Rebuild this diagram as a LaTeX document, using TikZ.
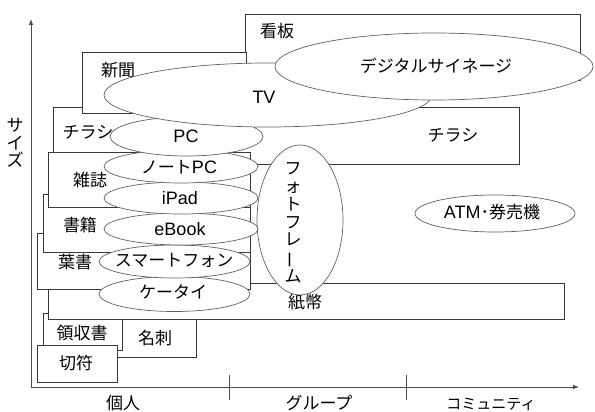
\documentclass[tikz,border=0pt]{standalone}
\usepackage{fontspec}
\newfontfamily\jp{Noto Sans CJK JP}
\newfontfamily\lf{Liberation Sans}
\usetikzlibrary{arrows.meta}
\begin{document}
\begin{tikzpicture}[x=1pt,y=-1pt,
  box/.style={draw=black!78, fill=white, line width=0.7pt},
  ell/.style={draw=black!62, fill=white, line width=0.7pt},
  lbl/.style={inner sep=0pt, text=black, font=\jp\fontsize{17}{17.8}\selectfont},
  lat/.style={inner sep=0pt, text=black, font=\lf\fontsize{18}{20}\selectfont},
  small/.style={inner sep=0pt, text=black, font=\jp\fontsize{15}{16}\selectfont},
  axis/.style={draw=black!70, line width=0.8pt},
  tip/.style={-{Latex[length=6pt,width=4.5pt]}}]
\useasboundingbox (0,0) rectangle (595,412);
\fill[white] (0,0) rectangle (595,412);

% axes
\coordinate (O) at (31,387);
\coordinate (ytip) at (31,19);
\coordinate (xtip) at (579,387);
\coordinate (t1a) at (229,375);
\coordinate (t1b) at (229,400);
\coordinate (t2a) at (406,375);
\coordinate (t2b) at (406,400);
\draw[axis,tip] (O) -- (ytip);
\draw[axis,tip] (O) -- (xtip);
\draw[axis] (t1a) -- (t1b);
\draw[axis] (t2a) -- (t2b);
\node[lbl, align=center, font=\jp\fontsize{17}{17.5}\selectfont] (size) at (15,143) {サ\\イ\\ズ};
\node[lbl] (kojin) at (123,403) {個人};
\node[lbl] (group) at (319,403) {グループ};
\node[small] (comm) at (491,404) {コミュニティ};

% boxes (drawing order matters)
\draw[box] (53,107) rectangle (519,164);   % chirashi
\draw[box] (245,14) rectangle (580,80);    % kanban
\draw[box] (82,52) rectangle (246,113);    % shinbun
\draw[box] (100,318) rectangle (196,357);  % meishi
\draw[box] (43,313) rectangle (122,350);   % ryoshusho
\draw[box] (37,345) rectangle (117,382);   % kippu
\draw[box] (48,283) rectangle (564,319);   % shihei
\draw[box] (37,233) rectangle (250,289);   % hagaki
\draw[box] (43,194) rectangle (250,252);   % shoseki
\draw[box] (48,152) rectangle (250,207);   % zasshi

\node[lbl] (kanban) at (277,31) {看板};
\node[lbl] (shinbun) at (118,70) {新聞};
\node[lbl] (chirashiL) at (88,132) {チラシ};
\node[lbl] (chirashiR) at (453,135) {チラシ};
\node[lbl] (zasshi) at (90,180) {雑誌};
\node[lbl] (shoseki) at (80,225) {書籍};
\node[lbl] (hagaki) at (75,262) {葉書};
\node[lbl] (shihei) at (305,302) {紙幣};
\node[lbl] (ryoshu) at (82,333) {領収書};
\node[lbl] (meishi) at (155,338) {名刺};
\node[lbl] (kippu) at (76,363) {切符};

% ellipses
\draw[ell] (300,220) ellipse [x radius=43, y radius=75];
\node[lbl, align=center] (photo) at (293,223) {フ\\ォ\\ト\\フ\\レ\\\rotatebox[origin=c]{90}{ー}\\ム};
\draw[ell] (174.5,294) ellipse [x radius=75.5, y radius=17.5];
\node[lbl] (ketai) at (173,292) {ケータイ};
\draw[ell] (174.5,261.5) ellipse [x radius=75.5, y radius=16.5];
\node[lbl] (smart) at (174,260) {スマートフォン};
\draw[ell] (181,229) ellipse [x radius=77, y radius=16];
\node[lat] (ebook) at (180,229) {eBook};
\draw[ell] (181,198) ellipse [x radius=77, y radius=16];
\node[lat] (ipad) at (180,198) {iPad};
\draw[ell] (181,166.5) ellipse [x radius=77, y radius=16.5];
\node[lbl] (note) at (179,167) {ノート{\lf\fontsize{18}{20}\selectfont PC}};
\draw[ell] (186.5,136.5) ellipse [x radius=76.5, y radius=19.5];
\node[lat] (pc) at (186,136) {PC};
\draw[ell] (268,95) ellipse [x radius=164, y radius=32];
\node[lat] (tv) at (264,97) {TV};
\draw[ell] (434,66.5) ellipse [x radius=159, y radius=33.5];
\node[lbl] (signage) at (436,66) {デジタルサイネージ};
\draw[ell] (495,213.5) ellipse [x radius=80, y radius=18.5];
\node[lbl] (atm) at (492,212) {{\lf\fontsize{18}{20}\selectfont ATM}･券売機};
\end{tikzpicture}
\end{document}
